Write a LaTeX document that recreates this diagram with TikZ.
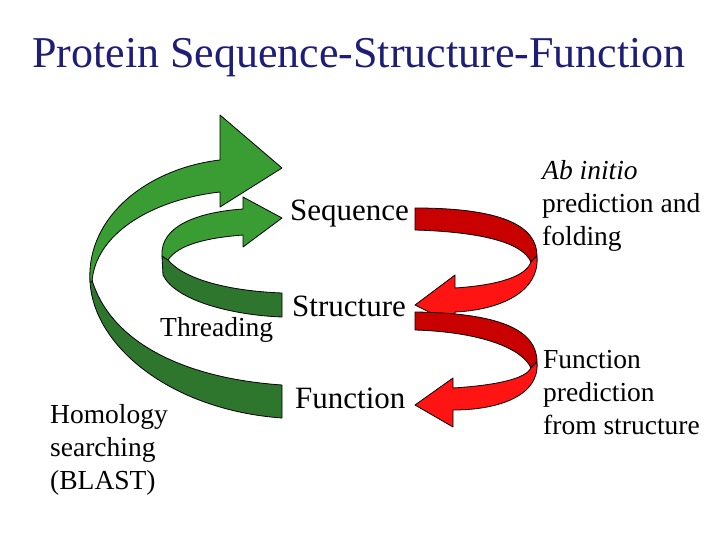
\documentclass[tikz,border=0pt]{standalone}
\usepackage{fontspec}
\setmainfont{Liberation Serif}
\begin{document}
\begin{tikzpicture}[x=1pt,y=-1pt,
  lg/.style={fill={rgb,255:red,58;green,157;blue,52},draw=black,line width=0.8pt,line join=round},
  dg/.style={fill={rgb,255:red,46;green,118;blue,46},draw=black,line width=0.8pt,line join=round},
  lr/.style={fill={rgb,255:red,255;green,20;blue,20},draw=black,line width=0.8pt,line join=round},
  dr/.style={fill={rgb,255:red,200;green,0;blue,0},draw=black,line width=0.8pt,line join=round},
  lbl/.style={anchor=west,font=\fontsize{31}{34}\selectfont,inner sep=0pt},
  sl/.style={anchor=west,font=\fontsize{27.5}{33}\selectfont,inner sep=0pt,align=left}]
\useasboundingbox (0,0) rectangle (720,540);
% title
\node[font=\fontsize{44}{50}\selectfont,text={rgb,255:red,30;green,30;blue,120}] (title) at (359,58) {Protein Sequence-Structure-Function};
% big green arrow
\path[dg] (90,280) .. controls (92,345) and (170,410) .. (282,418) -- (282,385) .. controls (180,378) and (110,340) .. (92,280) -- cycle;
\path[lg] (90,282) .. controls (86,215) and (150,168) .. (220,160) -- (220,115) -- (282,168) -- (220,207) -- (220,192) .. controls (150,200) and (95,235) .. (92,282) -- cycle;
% small green arrow
\path[dg] (162,256) -- (163,275) .. controls (175,300) and (230,315) .. (282,317) -- (282,293) .. controls (230,291) and (185,280) .. (168,260) -- cycle;
\path[lg] (162,256) .. controls (160,225) and (200,212) .. (243,209) -- (243,197) -- (282,218) -- (243,247) -- (243,235) .. controls (205,238) and (178,245) .. (168,260) -- cycle;
% red arrow 1
\path[dr] (415,208) .. controls (500,208) and (537,225) .. (537,256) -- (531,262) .. controls (522,242) and (480,232) .. (415,230) -- cycle;
\path[lr] (537,256) .. controls (540,292) and (500,310) .. (455,312) -- (455,325) -- (415,305) -- (455,275) -- (455,288) .. controls (500,285) and (526,276) .. (531,262) -- cycle;
% red arrow 2
\path[dr] (415,312) .. controls (500,313) and (537,330) .. (537,362) -- (531,368) .. controls (522,348) and (480,332) .. (415,330) -- cycle;
\path[lr] (537,362) .. controls (540,395) and (500,410) .. (453,410) -- (453,427) -- (415,405) -- (453,378) -- (453,388) .. controls (500,385) and (526,378) .. (531,368) -- cycle;
% labels
\node[lbl] (seq) at (290,214) {Sequence};
\node[lbl] (str) at (292,306) {Structure};
\node[lbl] (fun) at (295,398) {Function};
\node[sl] (thr) at (160,330) {Threading};
\node[sl] (hom) at (50,450) {Homology\\searching\\(BLAST)};
\node[sl] (abi) at (542,206) {\textit{Ab initio}\\prediction and\\folding};
\node[sl] (fp) at (543,393) {Function\\prediction\\from structure};
\end{tikzpicture}
\end{document}
